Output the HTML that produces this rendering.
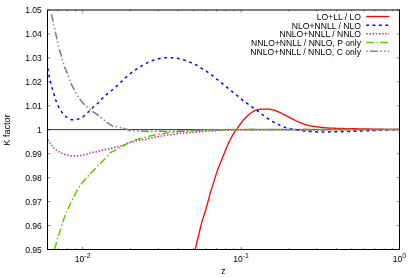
<!DOCTYPE html>
<html><head><meta charset="utf-8"><style>
html,body{margin:0;padding:0;background:#fff}
svg{display:block}
text{font-family:"Liberation Sans",sans-serif;font-size:9.1px;fill:#000}
</style></head><body>
<svg width="415" height="277" viewBox="0 0 415 277">
<defs><filter id="gs" x="0" y="0" width="415" height="277" filterUnits="userSpaceOnUse"><feColorMatrix type="saturate" values="0"/></filter><clipPath id="cp"><rect x="47.5" y="10.0" width="352.0" height="239.5"/></clipPath></defs>
<rect width="415" height="277" fill="#fff"/>
<g stroke="#000" stroke-width="0.5" fill="none"><path d="M47.5 10.00h2.7M399.5 10.00h-2.7"/><path d="M47.5 33.95h2.7M399.5 33.95h-2.7"/><path d="M47.5 57.90h2.7M399.5 57.90h-2.7"/><path d="M47.5 81.85h2.7M399.5 81.85h-2.7"/><path d="M47.5 105.80h2.7M399.5 105.80h-2.7"/><path d="M47.5 129.75h2.7M399.5 129.75h-2.7"/><path d="M47.5 153.70h2.7M399.5 153.70h-2.7"/><path d="M47.5 177.65h2.7M399.5 177.65h-2.7"/><path d="M47.5 201.60h2.7M399.5 201.60h-2.7"/><path d="M47.5 225.55h2.7M399.5 225.55h-2.7"/><path d="M47.5 249.50h2.7M399.5 249.50h-2.7"/><path d="M47.56 249.5v-1.4 M47.56 10.0v1.4"/><path d="M58.16 249.5v-1.4 M58.16 10.0v1.4"/><path d="M67.35 249.5v-1.4 M67.35 10.0v1.4"/><path d="M75.45 249.5v-1.4 M75.45 10.0v1.4"/><path d="M82.70 249.5v-2.7 M82.70 10.0v2.7"/><path d="M130.38 249.5v-1.4 M130.38 10.0v1.4"/><path d="M158.28 249.5v-1.4 M158.28 10.0v1.4"/><path d="M178.07 249.5v-1.4 M178.07 10.0v1.4"/><path d="M193.42 249.5v-1.4 M193.42 10.0v1.4"/><path d="M205.96 249.5v-1.4 M205.96 10.0v1.4"/><path d="M216.56 249.5v-1.4 M216.56 10.0v1.4"/><path d="M225.75 249.5v-1.4 M225.75 10.0v1.4"/><path d="M233.85 249.5v-1.4 M233.85 10.0v1.4"/><path d="M241.10 249.5v-2.7 M241.10 10.0v2.7"/><path d="M288.78 249.5v-1.4 M288.78 10.0v1.4"/><path d="M316.68 249.5v-1.4 M316.68 10.0v1.4"/><path d="M336.47 249.5v-1.4 M336.47 10.0v1.4"/><path d="M351.82 249.5v-1.4 M351.82 10.0v1.4"/><path d="M364.36 249.5v-1.4 M364.36 10.0v1.4"/><path d="M374.96 249.5v-1.4 M374.96 10.0v1.4"/><path d="M384.15 249.5v-1.4 M384.15 10.0v1.4"/><path d="M392.25 249.5v-1.4 M392.25 10.0v1.4"/><path d="M399.50 249.5v-2.7 M399.50 10.0v2.7"/></g>
<path d="M47.5 129.6H399.5" stroke="#000" stroke-width="0.8"/>
<path d="M195.20 249.20L195.35 248.58L195.54 247.81L195.76 246.91L196.01 245.89L196.28 244.78L196.56 243.61L196.86 242.40L197.16 241.17L197.46 239.94L197.75 238.73L198.04 237.58L198.30 236.50L198.55 235.46L198.81 234.41L199.06 233.37L199.31 232.32L199.56 231.27L199.81 230.24L200.06 229.21L200.30 228.19L200.55 227.19L200.80 226.21L201.05 225.24L201.30 224.30L201.55 223.39L201.80 222.50L202.05 221.63L202.30 220.79L202.54 219.95L202.79 219.13L203.04 218.32L203.29 217.50L203.54 216.69L203.79 215.87L204.05 215.04L204.30 214.20L204.56 213.35L204.81 212.50L205.08 211.65L205.34 210.80L205.60 209.94L205.86 209.09L206.12 208.23L206.39 207.37L206.64 206.51L206.90 205.64L207.15 204.77L207.40 203.90L207.64 203.01L207.89 202.11L208.13 201.19L208.36 200.27L208.60 199.34L208.83 198.41L209.06 197.49L209.29 196.59L209.52 195.70L209.75 194.84L209.97 194.00L210.20 193.20L210.42 192.44L210.64 191.71L210.86 191.01L211.08 190.33L211.29 189.67L211.51 189.02L211.72 188.39L211.93 187.75L212.15 187.11L212.36 186.45L212.58 185.79L212.80 185.10L213.02 184.39L213.25 183.65L213.49 182.90L213.72 182.14L213.96 181.38L214.19 180.61L214.43 179.86L214.66 179.11L214.88 178.39L215.10 177.69L215.30 177.03L215.50 176.40L215.68 175.82L215.84 175.30L215.98 174.83L216.11 174.38L216.24 173.96L216.37 173.54L216.50 173.11L216.64 172.67L216.80 172.20L216.97 171.69L217.17 171.13L217.40 170.50L217.66 169.81L217.94 169.06L218.25 168.27L218.57 167.44L218.91 166.59L219.26 165.71L219.62 164.82L219.98 163.92L220.34 163.02L220.70 162.13L221.06 161.26L221.40 160.40L221.74 159.56L222.08 158.71L222.42 157.85L222.76 157.00L223.11 156.14L223.45 155.29L223.79 154.44L224.14 153.59L224.48 152.75L224.82 151.93L225.16 151.11L225.50 150.30L225.84 149.50L226.17 148.71L226.50 147.92L226.84 147.14L227.17 146.36L227.50 145.59L227.83 144.83L228.16 144.09L228.50 143.35L228.83 142.62L229.16 141.90L229.50 141.20L229.84 140.50L230.19 139.81L230.54 139.11L230.90 138.43L231.26 137.75L231.61 137.09L231.96 136.44L232.31 135.82L232.65 135.22L232.98 134.65L233.30 134.11L233.60 133.60L233.89 133.14L234.16 132.73L234.41 132.36L234.66 132.02L234.90 131.70L235.13 131.41L235.36 131.12L235.60 130.83L235.83 130.53L236.08 130.21L236.33 129.87L236.60 129.50L236.88 129.10L237.16 128.68L237.45 128.25L237.74 127.81L238.04 127.36L238.34 126.91L238.64 126.45L238.95 125.99L239.26 125.53L239.57 125.08L239.88 124.63L240.20 124.20L240.52 123.77L240.84 123.34L241.17 122.91L241.50 122.48L241.83 122.05L242.17 121.62L242.51 121.20L242.84 120.79L243.18 120.38L243.52 119.98L243.86 119.58L244.20 119.20L244.54 118.82L244.88 118.45L245.22 118.09L245.56 117.73L245.91 117.37L246.25 117.03L246.59 116.68L246.94 116.35L247.28 116.03L247.62 115.71L247.96 115.40L248.30 115.10L248.64 114.81L248.97 114.53L249.30 114.25L249.64 113.99L249.97 113.73L250.30 113.48L250.63 113.23L250.96 112.99L251.30 112.76L251.63 112.54L251.96 112.31L252.30 112.10L252.64 111.89L252.97 111.68L253.30 111.48L253.63 111.29L253.96 111.10L254.29 110.92L254.62 110.74L254.96 110.58L255.31 110.42L255.66 110.27L256.03 110.13L256.40 110.00L256.78 109.88L257.18 109.77L257.58 109.67L258.00 109.58L258.41 109.49L258.84 109.42L259.26 109.35L259.69 109.29L260.12 109.23L260.55 109.18L260.98 109.14L261.40 109.10L261.83 109.07L262.26 109.05L262.70 109.03L263.14 109.03L263.58 109.03L264.02 109.03L264.46 109.04L264.89 109.05L265.31 109.06L265.72 109.08L266.12 109.09L266.50 109.10L266.86 109.10L267.18 109.10L267.49 109.09L267.77 109.09L268.05 109.08L268.33 109.07L268.62 109.08L268.91 109.09L269.24 109.12L269.58 109.16L269.97 109.22L270.40 109.30L270.87 109.40L271.39 109.51L271.93 109.64L272.50 109.78L273.09 109.93L273.70 110.09L274.32 110.27L274.94 110.46L275.57 110.65L276.19 110.86L276.80 111.08L277.40 111.30L277.98 111.54L278.57 111.79L279.14 112.05L279.72 112.33L280.30 112.62L280.88 112.91L281.47 113.22L282.06 113.53L282.65 113.84L283.26 114.16L283.87 114.48L284.50 114.80L285.14 115.13L285.79 115.46L286.45 115.81L287.13 116.16L287.80 116.52L288.49 116.88L289.17 117.24L289.86 117.60L290.55 117.95L291.24 118.31L291.92 118.66L292.60 119.00L293.27 119.34L293.95 119.68L294.63 120.03L295.30 120.37L295.97 120.71L296.65 121.05L297.32 121.38L298.00 121.71L298.67 122.02L299.35 122.33L300.02 122.62L300.70 122.90L301.37 123.17L302.05 123.42L302.72 123.67L303.40 123.91L304.07 124.14L304.75 124.36L305.43 124.57L306.10 124.78L306.77 124.97L307.45 125.16L308.12 125.33L308.80 125.50L309.47 125.65L310.14 125.80L310.80 125.92L311.46 126.04L312.12 126.15L312.78 126.25L313.45 126.35L314.12 126.44L314.80 126.53L315.49 126.62L316.19 126.71L316.90 126.80L317.62 126.90L318.34 126.99L319.05 127.08L319.78 127.17L320.51 127.26L321.25 127.34L322.01 127.43L322.78 127.51L323.57 127.59L324.39 127.66L325.23 127.73L326.10 127.80L326.98 127.86L327.85 127.93L328.73 127.98L329.61 128.04L330.52 128.09L331.46 128.14L332.43 128.18L333.45 128.23L334.53 128.27L335.68 128.32L336.90 128.36L338.20 128.40L339.60 128.44L341.11 128.48L342.70 128.51L344.36 128.55L346.08 128.58L347.84 128.61L349.63 128.64L351.44 128.67L353.24 128.70L355.03 128.74L356.79 128.77L358.50 128.80L360.18 128.83L361.86 128.87L363.54 128.90L365.21 128.94L366.89 128.97L368.56 129.01L370.24 129.04L371.92 129.07L373.60 129.11L375.29 129.14L376.99 129.17L378.70 129.20L380.48 129.23L382.38 129.26L384.37 129.29L386.39 129.32L388.42 129.35L390.41 129.38L392.34 129.40L394.16 129.43L395.83 129.45L397.32 129.47L398.59 129.49L399.60 129.50" stroke="#ff0000" stroke-width="1.3" fill="none" stroke-dasharray="" stroke-dashoffset="0" clip-path="url(#cp)"/>
<path d="M47.60 67.30L47.62 67.40L47.63 67.51L47.65 67.64L47.67 67.77L47.70 67.92L47.72 68.09L47.76 68.29L47.79 68.51L47.83 68.76L47.88 69.03L47.94 69.35L48.00 69.70L48.07 70.10L48.15 70.55L48.24 71.04L48.33 71.57L48.43 72.13L48.53 72.71L48.64 73.30L48.75 73.90L48.86 74.49L48.97 75.08L49.09 75.65L49.20 76.20L49.31 76.73L49.43 77.26L49.55 77.79L49.67 78.32L49.80 78.85L49.93 79.38L50.05 79.90L50.18 80.42L50.31 80.94L50.44 81.46L50.57 81.98L50.70 82.50L50.83 83.02L50.96 83.53L51.09 84.04L51.22 84.55L51.35 85.06L51.48 85.56L51.61 86.07L51.75 86.57L51.88 87.08L52.02 87.59L52.16 88.09L52.30 88.60L52.44 89.11L52.59 89.62L52.73 90.12L52.88 90.63L53.03 91.14L53.17 91.64L53.33 92.15L53.48 92.66L53.63 93.17L53.79 93.68L53.94 94.19L54.10 94.70L54.26 95.22L54.42 95.74L54.58 96.26L54.74 96.79L54.91 97.32L55.08 97.85L55.24 98.38L55.41 98.90L55.58 99.41L55.75 99.92L55.93 100.41L56.10 100.90L56.27 101.37L56.44 101.83L56.60 102.27L56.77 102.71L56.93 103.14L57.10 103.57L57.27 103.99L57.46 104.42L57.65 104.85L57.85 105.29L58.07 105.74L58.30 106.20L58.55 106.67L58.81 107.16L59.09 107.66L59.37 108.17L59.67 108.68L59.98 109.19L60.29 109.70L60.60 110.21L60.92 110.70L61.25 111.18L61.57 111.65L61.90 112.10L62.23 112.53L62.55 112.96L62.88 113.38L63.21 113.79L63.55 114.19L63.89 114.58L64.23 114.96L64.59 115.33L64.95 115.69L65.32 116.04L65.71 116.38L66.10 116.70L66.50 117.02L66.92 117.34L67.34 117.65L67.77 117.96L68.20 118.25L68.65 118.53L69.10 118.79L69.57 119.03L70.04 119.25L70.52 119.43L71.00 119.58L71.50 119.70L72.01 119.78L72.54 119.82L73.09 119.83L73.65 119.81L74.22 119.77L74.79 119.71L75.37 119.62L75.94 119.52L76.50 119.40L77.05 119.28L77.58 119.14L78.10 119.00L78.60 118.85L79.09 118.69L79.57 118.51L80.04 118.31L80.51 118.10L80.96 117.88L81.41 117.65L81.86 117.40L82.30 117.14L82.74 116.87L83.17 116.59L83.60 116.30L84.02 115.99L84.44 115.67L84.85 115.33L85.25 114.97L85.64 114.60L86.04 114.22L86.43 113.84L86.82 113.45L87.21 113.06L87.60 112.67L88.00 112.28L88.40 111.90L88.81 111.52L89.21 111.13L89.62 110.73L90.03 110.33L90.44 109.93L90.86 109.53L91.27 109.13L91.68 108.73L92.09 108.34L92.49 107.95L92.90 107.57L93.30 107.20L93.70 106.84L94.10 106.49L94.50 106.14L94.90 105.80L95.30 105.47L95.70 105.14L96.09 104.81L96.49 104.47L96.87 104.14L97.25 103.80L97.63 103.45L98.00 103.10L98.36 102.74L98.71 102.37L99.05 102.00L99.38 101.63L99.71 101.25L100.03 100.88L100.36 100.50L100.69 100.11L101.03 99.73L101.37 99.35L101.73 98.98L102.10 98.60L102.48 98.22L102.88 97.85L103.28 97.47L103.70 97.09L104.11 96.71L104.54 96.33L104.96 95.95L105.39 95.58L105.82 95.20L106.25 94.83L106.68 94.46L107.10 94.10L107.52 93.74L107.95 93.38L108.38 93.03L108.81 92.67L109.24 92.32L109.67 91.97L110.10 91.63L110.53 91.28L110.95 90.94L111.37 90.59L111.79 90.25L112.20 89.90L112.61 89.56L113.01 89.21L113.40 88.88L113.79 88.54L114.18 88.20L114.57 87.86L114.95 87.52L115.34 87.19L115.73 86.84L116.12 86.50L116.51 86.15L116.90 85.80L117.30 85.44L117.70 85.09L118.10 84.72L118.50 84.36L118.90 83.99L119.30 83.62L119.70 83.26L120.10 82.89L120.50 82.51L120.90 82.14L121.30 81.77L121.70 81.40L122.09 81.03L122.49 80.65L122.88 80.28L123.26 79.90L123.65 79.52L124.04 79.14L124.43 78.76L124.81 78.38L125.21 78.01L125.60 77.63L126.00 77.26L126.40 76.90L126.81 76.54L127.21 76.17L127.63 75.81L128.04 75.45L128.46 75.09L128.88 74.74L129.29 74.39L129.71 74.04L130.14 73.69L130.56 73.36L130.98 73.02L131.40 72.70L131.82 72.38L132.24 72.08L132.65 71.78L133.07 71.49L133.49 71.20L133.91 70.91L134.33 70.63L134.75 70.35L135.18 70.07L135.61 69.78L136.05 69.49L136.50 69.20L136.95 68.90L137.42 68.60L137.89 68.29L138.37 67.99L138.85 67.68L139.33 67.37L139.82 67.06L140.30 66.76L140.78 66.46L141.26 66.17L141.73 65.88L142.20 65.60L142.66 65.33L143.11 65.06L143.55 64.80L144.00 64.54L144.44 64.28L144.87 64.03L145.32 63.78L145.76 63.54L146.21 63.30L146.66 63.06L147.13 62.83L147.60 62.60L148.08 62.37L148.58 62.14L149.08 61.92L149.58 61.70L150.09 61.48L150.61 61.26L151.12 61.05L151.64 60.85L152.16 60.65L152.68 60.46L153.19 60.28L153.70 60.10L154.21 59.93L154.72 59.77L155.23 59.62L155.74 59.47L156.25 59.33L156.76 59.19L157.27 59.06L157.77 58.94L158.28 58.82L158.79 58.71L159.30 58.60L159.80 58.50L160.30 58.40L160.80 58.31L161.30 58.22L161.79 58.14L162.28 58.07L162.78 58.00L163.27 57.94L163.77 57.88L164.27 57.83L164.77 57.78L165.28 57.74L165.80 57.70L166.33 57.67L166.86 57.64L167.40 57.62L167.95 57.61L168.50 57.60L169.05 57.60L169.60 57.60L170.15 57.61L170.70 57.63L171.24 57.64L171.77 57.67L172.30 57.70L172.82 57.74L173.33 57.78L173.83 57.83L174.33 57.88L174.82 57.94L175.31 58.00L175.80 58.07L176.30 58.14L176.79 58.23L177.29 58.31L177.79 58.40L178.30 58.50L178.81 58.60L179.33 58.71L179.85 58.82L180.38 58.94L180.90 59.06L181.43 59.19L181.96 59.33L182.49 59.47L183.02 59.62L183.55 59.77L184.07 59.93L184.60 60.10L185.13 60.28L185.66 60.46L186.19 60.66L186.72 60.86L187.25 61.07L187.78 61.29L188.31 61.51L188.84 61.73L189.36 61.95L189.88 62.17L190.39 62.39L190.90 62.60L191.40 62.81L191.90 63.02L192.40 63.22L192.89 63.43L193.38 63.64L193.86 63.84L194.34 64.05L194.82 64.27L195.30 64.49L195.77 64.72L196.24 64.96L196.70 65.20L197.16 65.46L197.61 65.72L198.06 66.00L198.50 66.28L198.94 66.57L199.38 66.86L199.81 67.15L200.24 67.44L200.68 67.74L201.12 68.03L201.56 68.32L202.00 68.60L202.45 68.88L202.90 69.15L203.35 69.42L203.80 69.69L204.26 69.96L204.71 70.22L205.17 70.49L205.62 70.77L206.07 71.04L206.52 71.32L206.96 71.61L207.40 71.90L207.84 72.20L208.27 72.50L208.70 72.81L209.12 73.12L209.55 73.43L209.97 73.75L210.39 74.07L210.81 74.39L211.23 74.72L211.65 75.04L212.08 75.37L212.50 75.70L212.93 76.03L213.35 76.37L213.78 76.71L214.20 77.05L214.63 77.39L215.06 77.74L215.48 78.08L215.91 78.43L216.33 78.78L216.76 79.12L217.18 79.46L217.60 79.80L218.02 80.14L218.44 80.47L218.85 80.80L219.27 81.14L219.69 81.47L220.10 81.80L220.51 82.13L220.93 82.46L221.35 82.80L221.76 83.13L222.18 83.46L222.60 83.80L223.02 84.14L223.44 84.48L223.87 84.82L224.29 85.16L224.72 85.50L225.14 85.84L225.57 86.18L226.00 86.52L226.42 86.87L226.85 87.21L227.27 87.55L227.70 87.90L228.13 88.25L228.55 88.60L228.98 88.95L229.40 89.30L229.83 89.65L230.26 90.00L230.68 90.35L231.11 90.70L231.53 91.05L231.96 91.40L232.38 91.75L232.80 92.10L233.22 92.45L233.64 92.79L234.06 93.14L234.49 93.49L234.91 93.83L235.32 94.18L235.74 94.52L236.16 94.86L236.57 95.20L236.99 95.54L237.39 95.87L237.80 96.20L238.20 96.53L238.59 96.85L238.98 97.17L239.36 97.48L239.74 97.79L240.12 98.11L240.50 98.42L240.89 98.73L241.28 99.04L241.67 99.36L242.08 99.68L242.50 100.00L242.93 100.33L243.38 100.66L243.84 101.00L244.30 101.33L244.77 101.67L245.24 102.01L245.72 102.35L246.19 102.69L246.66 103.02L247.11 103.35L247.56 103.68L248.00 104.00L248.42 104.31L248.84 104.62L249.24 104.93L249.64 105.23L250.03 105.53L250.42 105.83L250.81 106.12L251.20 106.41L251.59 106.71L251.98 107.00L252.39 107.30L252.80 107.60L253.22 107.90L253.65 108.20L254.08 108.50L254.51 108.79L254.95 109.09L255.39 109.39L255.83 109.69L256.27 109.99L256.70 110.29L257.14 110.59L257.57 110.89L258.00 111.20L258.42 111.51L258.84 111.82L259.26 112.14L259.68 112.46L260.10 112.77L260.51 113.09L260.93 113.41L261.34 113.73L261.75 114.05L262.17 114.37L262.58 114.69L263.00 115.00L263.42 115.31L263.83 115.63L264.24 115.94L264.65 116.26L265.06 116.57L265.48 116.88L265.89 117.19L266.30 117.50L266.72 117.81L267.14 118.11L267.57 118.41L268.00 118.70L268.43 118.99L268.87 119.28L269.31 119.56L269.74 119.84L270.19 120.11L270.63 120.39L271.08 120.66L271.53 120.93L271.99 121.20L272.45 121.47L272.92 121.73L273.40 122.00L273.88 122.27L274.38 122.54L274.88 122.81L275.39 123.07L275.90 123.34L276.41 123.61L276.93 123.87L277.45 124.13L277.97 124.38L278.48 124.63L278.99 124.87L279.50 125.10L280.00 125.33L280.50 125.55L281.00 125.77L281.50 125.99L282.00 126.20L282.50 126.41L283.00 126.61L283.50 126.80L284.00 126.99L284.50 127.17L285.00 127.34L285.50 127.50L286.00 127.65L286.50 127.79L286.99 127.92L287.49 128.05L287.98 128.16L288.48 128.28L288.98 128.38L289.49 128.49L290.00 128.59L290.52 128.69L291.06 128.79L291.60 128.90L292.16 129.01L292.74 129.11L293.33 129.22L293.93 129.32L294.54 129.42L295.15 129.52L295.76 129.62L296.37 129.72L296.97 129.82L297.56 129.91L298.14 130.01L298.70 130.10L299.24 130.19L299.76 130.28L300.27 130.38L300.77 130.47L301.26 130.56L301.75 130.64L302.24 130.73L302.73 130.81L303.23 130.89L303.74 130.96L304.26 131.03L304.80 131.10L305.36 131.16L305.93 131.21L306.51 131.26L307.10 131.31L307.69 131.35L308.29 131.39L308.90 131.43L309.50 131.47L310.11 131.50L310.71 131.53L311.31 131.57L311.90 131.60L312.45 131.63L312.95 131.67L313.42 131.70L313.86 131.73L314.30 131.76L314.76 131.79L315.26 131.81L315.81 131.84L316.43 131.86L317.14 131.88L317.96 131.89L318.90 131.90L319.99 131.91L321.23 131.91L322.60 131.91L324.06 131.91L325.59 131.90L327.16 131.89L328.76 131.88L330.36 131.87L331.92 131.86L333.43 131.84L334.87 131.82L336.20 131.80L337.45 131.78L338.65 131.75L339.81 131.72L340.94 131.69L342.05 131.65L343.12 131.62L344.19 131.58L345.23 131.54L346.27 131.51L347.31 131.47L348.35 131.43L349.40 131.40L350.44 131.37L351.47 131.34L352.48 131.30L353.47 131.27L354.46 131.24L355.45 131.21L356.44 131.18L357.43 131.15L358.42 131.11L359.43 131.08L360.46 131.04L361.50 131.00L362.56 130.96L363.65 130.91L364.75 130.86L365.86 130.81L366.98 130.76L368.10 130.71L369.22 130.65L370.34 130.60L371.45 130.55L372.55 130.50L373.64 130.45L374.70 130.40L375.76 130.35L376.83 130.31L377.89 130.26L378.96 130.22L380.02 130.17L381.06 130.13L382.09 130.09L383.10 130.05L384.07 130.01L385.02 129.97L385.93 129.93L386.80 129.90L387.63 129.87L388.43 129.83L389.21 129.80L389.96 129.77L390.68 129.75L391.37 129.72L392.04 129.69L392.68 129.67L393.29 129.65L393.89 129.63L394.46 129.61L395.00 129.60L395.52 129.59L396.03 129.58L396.51 129.58L396.97 129.58L397.40 129.58L397.81 129.58L398.19 129.58L398.54 129.59L398.86 129.59L399.14 129.60L399.39 129.60L399.60 129.60" stroke="#0000ff" stroke-width="1.5" fill="none" stroke-dasharray="2.8 3.6" stroke-dashoffset="-1.1" clip-path="url(#cp)"/>
<path d="M47.60 139.80L47.63 139.83L47.65 139.87L47.68 139.90L47.71 139.94L47.75 139.99L47.79 140.04L47.83 140.11L47.89 140.18L47.95 140.26L48.02 140.36L48.11 140.47L48.20 140.60L48.31 140.75L48.43 140.91L48.56 141.10L48.70 141.30L48.85 141.51L49.01 141.72L49.17 141.95L49.33 142.18L49.50 142.41L49.67 142.65L49.84 142.88L50.00 143.10L50.16 143.32L50.33 143.56L50.51 143.79L50.68 144.03L50.86 144.27L51.04 144.51L51.22 144.75L51.40 144.99L51.58 145.23L51.75 145.46L51.93 145.68L52.10 145.90L52.27 146.11L52.43 146.32L52.60 146.52L52.76 146.71L52.92 146.91L53.08 147.10L53.24 147.29L53.40 147.47L53.57 147.66L53.74 147.84L53.92 148.02L54.10 148.20L54.29 148.38L54.49 148.55L54.69 148.73L54.89 148.90L55.10 149.07L55.31 149.24L55.53 149.40L55.74 149.57L55.96 149.73L56.17 149.89L56.39 150.04L56.60 150.20L56.81 150.35L57.03 150.50L57.24 150.65L57.45 150.80L57.67 150.94L57.88 151.08L58.10 151.22L58.31 151.36L58.53 151.50L58.75 151.63L58.98 151.77L59.20 151.90L59.43 152.03L59.65 152.17L59.88 152.30L60.11 152.43L60.34 152.56L60.58 152.69L60.81 152.81L61.04 152.94L61.28 153.06L61.52 153.18L61.76 153.29L62.00 153.40L62.24 153.51L62.48 153.61L62.73 153.71L62.97 153.81L63.22 153.90L63.47 153.99L63.72 154.08L63.97 154.17L64.22 154.26L64.48 154.34L64.74 154.42L65.00 154.50L65.27 154.58L65.54 154.65L65.81 154.73L66.09 154.80L66.37 154.87L66.65 154.94L66.93 155.00L67.21 155.07L67.49 155.13L67.76 155.19L68.03 155.24L68.30 155.30L68.56 155.35L68.81 155.41L69.06 155.46L69.31 155.50L69.56 155.55L69.80 155.59L70.04 155.64L70.29 155.67L70.54 155.71L70.79 155.74L71.04 155.77L71.30 155.80L71.56 155.82L71.83 155.84L72.10 155.86L72.38 155.87L72.65 155.88L72.93 155.89L73.21 155.89L73.49 155.90L73.77 155.90L74.05 155.90L74.32 155.90L74.60 155.90L74.88 155.90L75.15 155.90L75.43 155.89L75.71 155.89L75.99 155.88L76.27 155.88L76.55 155.87L76.82 155.86L77.10 155.84L77.37 155.83L77.64 155.82L77.90 155.80L78.16 155.78L78.41 155.77L78.66 155.75L78.91 155.73L79.16 155.71L79.40 155.69L79.64 155.66L79.89 155.64L80.14 155.61L80.39 155.58L80.64 155.54L80.90 155.50L81.17 155.46L81.43 155.41L81.71 155.35L81.99 155.29L82.26 155.23L82.54 155.17L82.82 155.10L83.10 155.04L83.38 154.98L83.66 154.92L83.93 154.86L84.20 154.80L84.46 154.75L84.73 154.70L84.98 154.66L85.24 154.61L85.50 154.57L85.75 154.53L86.00 154.49L86.26 154.44L86.52 154.39L86.77 154.33L87.04 154.27L87.30 154.20L87.56 154.12L87.81 154.04L88.05 153.94L88.28 153.85L88.52 153.75L88.76 153.64L89.02 153.54L89.29 153.43L89.57 153.32L89.89 153.21L90.23 153.11L90.60 153.00L91.01 152.90L91.46 152.79L91.93 152.69L92.43 152.58L92.95 152.48L93.48 152.37L94.02 152.26L94.57 152.15L95.12 152.04L95.66 151.93L96.19 151.82L96.70 151.70L97.20 151.58L97.70 151.46L98.19 151.34L98.69 151.21L99.18 151.09L99.67 150.96L100.16 150.84L100.66 150.71L101.16 150.58L101.67 150.45L102.18 150.33L102.70 150.20L103.23 150.07L103.77 149.95L104.32 149.82L104.87 149.70L105.43 149.57L105.99 149.45L106.56 149.32L107.11 149.20L107.67 149.07L108.22 148.95L108.77 148.82L109.30 148.70L109.83 148.57L110.35 148.45L110.86 148.32L111.37 148.20L111.88 148.07L112.39 147.95L112.89 147.82L113.39 147.70L113.89 147.57L114.39 147.45L114.90 147.32L115.40 147.20L115.91 147.07L116.43 146.95L116.96 146.82L117.50 146.69L118.03 146.56L118.56 146.44L119.08 146.31L119.58 146.19L120.07 146.06L120.54 145.94L120.98 145.82L121.40 145.70L121.78 145.59L122.11 145.48L122.42 145.38L122.70 145.28L122.96 145.18L123.22 145.09L123.47 144.99L123.73 144.89L124.01 144.78L124.31 144.66L124.63 144.54L125.00 144.40L125.40 144.25L125.82 144.09L126.27 143.91L126.73 143.73L127.21 143.55L127.69 143.36L128.19 143.17L128.69 142.98L129.20 142.79L129.70 142.62L130.20 142.45L130.70 142.30L131.19 142.16L131.69 142.02L132.19 141.90L132.69 141.77L133.20 141.66L133.71 141.54L134.22 141.43L134.73 141.33L135.24 141.22L135.76 141.11L136.28 141.01L136.80 140.90L137.33 140.79L137.89 140.68L138.46 140.57L139.04 140.46L139.63 140.35L140.21 140.24L140.77 140.13L141.32 140.03L141.85 139.94L142.34 139.85L142.79 139.77L143.20 139.70L143.55 139.64L143.83 139.60L144.06 139.57L144.26 139.55L144.43 139.54L144.59 139.53L144.75 139.51L144.92 139.49L145.12 139.47L145.36 139.43L145.65 139.37L146.00 139.30L146.42 139.21L146.89 139.10L147.39 138.98L147.94 138.84L148.51 138.70L149.09 138.55L149.69 138.40L150.30 138.25L150.90 138.10L151.48 137.96L152.06 137.82L152.60 137.70L153.12 137.59L153.64 137.48L154.15 137.37L154.66 137.27L155.16 137.17L155.66 137.07L156.16 136.97L156.66 136.88L157.16 136.78L157.67 136.69L158.18 136.60L158.70 136.50L159.23 136.40L159.76 136.31L160.30 136.21L160.84 136.12L161.39 136.02L161.94 135.93L162.49 135.84L163.03 135.75L163.58 135.66L164.12 135.57L164.66 135.48L165.20 135.40L165.73 135.32L166.26 135.24L166.79 135.16L167.31 135.08L167.83 135.01L168.36 134.93L168.88 134.86L169.40 134.79L169.92 134.71L170.45 134.64L170.97 134.57L171.50 134.50L172.03 134.43L172.56 134.36L173.10 134.29L173.64 134.22L174.17 134.15L174.71 134.09L175.25 134.02L175.79 133.96L176.32 133.89L176.85 133.83L177.38 133.76L177.90 133.70L178.41 133.64L178.90 133.58L179.38 133.52L179.84 133.46L180.31 133.41L180.78 133.35L181.26 133.29L181.76 133.24L182.27 133.18L182.81 133.12L183.39 133.06L184.00 133.00L184.64 132.94L185.30 132.87L185.98 132.81L186.68 132.74L187.40 132.68L188.14 132.61L188.90 132.55L189.69 132.48L190.50 132.41L191.34 132.34L192.21 132.27L193.10 132.20L194.03 132.13L195.01 132.05L196.02 131.98L197.07 131.90L198.14 131.82L199.23 131.74L200.33 131.67L201.44 131.59L202.55 131.51L203.65 131.44L204.73 131.37L205.80 131.30L206.85 131.23L207.91 131.17L208.96 131.11L210.01 131.04L211.06 130.98L212.11 130.93L213.16 130.87L214.20 130.81L215.25 130.76L216.30 130.70L217.35 130.65L218.40 130.60L219.40 130.55L220.31 130.50L221.17 130.46L221.99 130.41L222.82 130.37L223.68 130.33L224.59 130.29L225.59 130.25L226.70 130.21L227.95 130.18L229.38 130.14L231.00 130.10L232.49 130.06L233.60 130.02L234.50 129.99L235.36 129.95L236.32 129.91L237.56 129.88L239.25 129.84L241.53 129.81L244.59 129.78L248.58 129.75L253.66 129.72L260.00 129.70L268.21 129.68L278.48 129.66L290.40 129.65L303.51 129.64L317.39 129.63L331.61 129.62L345.73 129.62L359.31 129.61L371.92 129.61L383.13 129.61L392.50 129.60L399.60 129.60" stroke="#d51e8c" stroke-width="1.5" fill="none" stroke-dasharray="1.45 1.75" stroke-dashoffset="0" clip-path="url(#cp)"/>
<path d="M54.50 249.20L54.61 248.85L54.74 248.40L54.91 247.86L55.09 247.26L55.29 246.60L55.50 245.92L55.71 245.22L55.92 244.53L56.12 243.87L56.30 243.25L56.46 242.68L56.60 242.20L56.71 241.78L56.81 241.41L56.89 241.07L56.96 240.76L57.02 240.47L57.07 240.21L57.12 239.95L57.17 239.71L57.22 239.46L57.27 239.22L57.33 238.97L57.40 238.70L57.47 238.44L57.53 238.21L57.59 238.00L57.65 237.80L57.71 237.61L57.77 237.41L57.85 237.19L57.93 236.95L58.02 236.68L58.13 236.37L58.25 236.01L58.40 235.60L58.58 235.11L58.79 234.54L59.03 233.90L59.29 233.22L59.56 232.50L59.83 231.78L60.11 231.05L60.37 230.34L60.62 229.66L60.85 229.04L61.04 228.48L61.20 228.00L61.32 227.60L61.41 227.27L61.48 226.99L61.52 226.75L61.55 226.55L61.56 226.37L61.57 226.21L61.58 226.05L61.59 225.89L61.61 225.72L61.65 225.52L61.70 225.30L61.76 225.07L61.82 224.86L61.87 224.66L61.93 224.46L61.99 224.26L62.06 224.06L62.13 223.83L62.21 223.58L62.31 223.30L62.42 222.98L62.55 222.62L62.70 222.20L62.88 221.71L63.08 221.14L63.31 220.50L63.56 219.82L63.82 219.10L64.09 218.38L64.36 217.65L64.62 216.94L64.87 216.26L65.11 215.64L65.32 215.08L65.50 214.60L65.66 214.20L65.79 213.87L65.91 213.58L66.02 213.34L66.12 213.13L66.21 212.95L66.29 212.78L66.37 212.63L66.44 212.47L66.52 212.30L66.61 212.11L66.70 211.90L66.79 211.68L66.87 211.48L66.94 211.28L67.01 211.09L67.07 210.90L67.14 210.70L67.22 210.49L67.30 210.27L67.40 210.02L67.51 209.75L67.65 209.44L67.80 209.10L67.98 208.71L68.19 208.28L68.42 207.80L68.67 207.30L68.94 206.78L69.21 206.24L69.48 205.69L69.75 205.16L70.01 204.63L70.26 204.12L70.49 203.64L70.70 203.20L70.89 202.79L71.06 202.39L71.23 202.00L71.39 201.62L71.53 201.26L71.67 200.91L71.81 200.56L71.95 200.23L72.08 199.91L72.22 199.60L72.36 199.30L72.50 199.00L72.64 198.73L72.77 198.50L72.89 198.29L73.01 198.10L73.13 197.93L73.26 197.75L73.38 197.57L73.52 197.36L73.66 197.13L73.83 196.87L74.00 196.56L74.20 196.20L74.42 195.77L74.67 195.27L74.95 194.73L75.24 194.14L75.54 193.52L75.84 192.89L76.15 192.27L76.45 191.65L76.74 191.06L77.02 190.52L77.27 190.03L77.50 189.60L77.70 189.24L77.88 188.93L78.05 188.66L78.20 188.42L78.35 188.21L78.48 188.02L78.61 187.84L78.74 187.67L78.87 187.50L79.01 187.32L79.15 187.12L79.30 186.90L79.45 186.67L79.60 186.45L79.75 186.23L79.89 186.01L80.03 185.79L80.18 185.57L80.34 185.34L80.50 185.10L80.68 184.85L80.87 184.58L81.07 184.30L81.30 184.00L81.55 183.67L81.83 183.32L82.12 182.94L82.43 182.54L82.76 182.14L83.09 181.73L83.42 181.31L83.76 180.90L84.08 180.50L84.40 180.11L84.71 179.74L85.00 179.40L85.28 179.08L85.55 178.77L85.81 178.47L86.07 178.18L86.32 177.90L86.58 177.62L86.82 177.36L87.06 177.10L87.30 176.85L87.54 176.59L87.77 176.35L88.00 176.10L88.22 175.87L88.41 175.66L88.59 175.46L88.77 175.28L88.94 175.10L89.11 174.93L89.29 174.74L89.48 174.54L89.69 174.32L89.93 174.08L90.20 173.81L90.50 173.50L90.85 173.14L91.26 172.74L91.71 172.30L92.18 171.83L92.68 171.35L93.18 170.85L93.68 170.35L94.17 169.87L94.64 169.40L95.08 168.96L95.46 168.56L95.80 168.20L96.08 167.89L96.32 167.61L96.52 167.36L96.69 167.13L96.84 166.92L96.97 166.72L97.09 166.54L97.21 166.36L97.34 166.18L97.47 166.00L97.62 165.80L97.80 165.60L97.99 165.40L98.17 165.20L98.35 165.02L98.53 164.84L98.71 164.67L98.91 164.49L99.11 164.30L99.33 164.10L99.56 163.88L99.82 163.65L100.09 163.39L100.40 163.10L100.75 162.77L101.14 162.41L101.56 162.01L102.01 161.60L102.48 161.16L102.96 160.72L103.43 160.27L103.90 159.84L104.35 159.41L104.77 159.01L105.16 158.64L105.50 158.30L105.80 158.00L106.07 157.72L106.31 157.46L106.53 157.22L106.73 156.99L106.91 156.78L107.09 156.57L107.26 156.36L107.44 156.15L107.61 155.94L107.80 155.73L108.00 155.50L108.20 155.27L108.38 155.04L108.55 154.80L108.71 154.57L108.87 154.34L109.04 154.11L109.22 153.88L109.41 153.65L109.64 153.41L109.89 153.18L110.17 152.94L110.50 152.70L110.88 152.45L111.32 152.19L111.80 151.93L112.32 151.66L112.86 151.39L113.42 151.12L113.98 150.85L114.52 150.60L115.05 150.35L115.55 150.12L116.00 149.90L116.40 149.70L116.75 149.52L117.07 149.37L117.35 149.23L117.61 149.11L117.85 148.99L118.08 148.89L118.29 148.78L118.50 148.68L118.71 148.57L118.93 148.46L119.16 148.34L119.40 148.20L119.65 148.05L119.91 147.89L120.16 147.73L120.41 147.56L120.66 147.39L120.92 147.22L121.17 147.04L121.43 146.87L121.69 146.70L121.96 146.53L122.23 146.36L122.50 146.20L122.78 146.04L123.08 145.89L123.38 145.74L123.69 145.59L124.00 145.44L124.31 145.29L124.61 145.14L124.91 144.99L125.21 144.85L125.49 144.70L125.75 144.55L126.00 144.40L126.21 144.25L126.39 144.11L126.53 143.97L126.65 143.84L126.76 143.70L126.88 143.56L127.00 143.42L127.15 143.27L127.34 143.12L127.56 142.96L127.85 142.79L128.20 142.60L128.62 142.40L129.10 142.18L129.63 141.94L130.20 141.70L130.81 141.45L131.44 141.19L132.09 140.94L132.75 140.69L133.41 140.45L134.06 140.21L134.69 140.00L135.30 139.80L135.90 139.62L136.53 139.44L137.17 139.28L137.82 139.12L138.47 138.97L139.11 138.82L139.73 138.69L140.34 138.56L140.91 138.44L141.45 138.32L141.95 138.21L142.40 138.10L142.79 138.00L143.14 137.91L143.45 137.83L143.72 137.76L143.96 137.70L144.18 137.64L144.39 137.58L144.58 137.53L144.77 137.47L144.97 137.42L145.18 137.36L145.40 137.30L145.61 137.24L145.80 137.19L145.96 137.15L146.11 137.10L146.26 137.06L146.41 137.02L146.58 136.97L146.78 136.92L147.01 136.86L147.28 136.78L147.61 136.70L148.00 136.60L148.47 136.48L149.02 136.34L149.64 136.18L150.30 136.00L151.00 135.82L151.72 135.64L152.44 135.45L153.16 135.27L153.84 135.10L154.49 134.95L155.08 134.81L155.60 134.70L156.06 134.61L156.47 134.54L156.85 134.48L157.20 134.43L157.52 134.39L157.82 134.36L158.11 134.34L158.39 134.31L158.66 134.29L158.93 134.27L159.21 134.24L159.50 134.20L159.78 134.16L160.03 134.12L160.26 134.09L160.47 134.06L160.69 134.03L160.90 133.99L161.13 133.96L161.37 133.92L161.64 133.87L161.95 133.82L162.30 133.77L162.70 133.70L163.15 133.62L163.62 133.54L164.13 133.45L164.66 133.35L165.22 133.24L165.81 133.14L166.42 133.03L167.06 132.92L167.72 132.81L168.39 132.70L169.09 132.60L169.80 132.50L170.53 132.40L171.29 132.31L172.07 132.21L172.87 132.12L173.69 132.02L174.53 131.93L175.39 131.84L176.28 131.75L177.18 131.66L178.10 131.57L179.04 131.48L180.00 131.40L180.96 131.32L181.90 131.24L182.84 131.16L183.79 131.08L184.76 131.00L185.76 130.93L186.80 130.85L187.90 130.78L189.05 130.71L190.28 130.64L191.59 130.57L193.00 130.50L194.51 130.43L196.11 130.37L197.80 130.30L199.56 130.23L201.38 130.17L203.25 130.11L205.16 130.05L207.11 129.99L209.08 129.94L211.06 129.89L213.03 129.84L215.00 129.80L216.55 129.77L217.44 129.74L217.88 129.71L218.13 129.69L218.39 129.67L218.90 129.66L219.89 129.64L221.59 129.63L224.22 129.62L228.01 129.62L233.19 129.61L240.00 129.60L249.10 129.59L260.66 129.59L274.18 129.59L289.14 129.59L305.04 129.59L321.36 129.59L337.60 129.59L353.24 129.59L367.77 129.60L380.68 129.60L391.46 129.60L399.60 129.60" stroke="#64c800" stroke-width="1.5" fill="none" stroke-dasharray="7.7 2.7 1.5 2.2" stroke-dashoffset="0" clip-path="url(#cp)"/>
<path d="M51.20 12.50L51.20 12.56L51.20 12.61L51.20 12.66L51.20 12.71L51.19 12.77L51.19 12.86L51.20 12.96L51.21 13.10L51.24 13.28L51.28 13.50L51.33 13.77L51.40 14.10L51.49 14.51L51.61 15.01L51.75 15.57L51.90 16.19L52.06 16.85L52.23 17.53L52.40 18.22L52.57 18.90L52.72 19.55L52.87 20.16L53.00 20.72L53.10 21.20L53.18 21.62L53.25 21.99L53.30 22.32L53.34 22.63L53.37 22.90L53.39 23.16L53.42 23.41L53.44 23.65L53.47 23.90L53.50 24.15L53.54 24.41L53.60 24.70L53.67 25.00L53.74 25.31L53.82 25.62L53.91 25.93L54.00 26.24L54.09 26.56L54.18 26.87L54.27 27.18L54.36 27.49L54.44 27.80L54.53 28.10L54.60 28.40L54.67 28.68L54.72 28.94L54.78 29.19L54.82 29.43L54.87 29.67L54.91 29.91L54.96 30.16L55.01 30.43L55.07 30.72L55.13 31.04L55.21 31.40L55.30 31.80L55.40 32.26L55.53 32.77L55.66 33.34L55.80 33.94L55.95 34.56L56.10 35.19L56.25 35.83L56.40 36.45L56.54 37.05L56.67 37.62L56.80 38.14L56.90 38.60L56.99 39.01L57.07 39.38L57.14 39.71L57.20 40.02L57.25 40.30L57.30 40.57L57.35 40.82L57.39 41.07L57.44 41.32L57.49 41.57L57.54 41.83L57.60 42.10L57.66 42.38L57.73 42.66L57.79 42.94L57.86 43.21L57.93 43.49L57.99 43.76L58.06 44.04L58.13 44.31L58.20 44.58L58.27 44.85L58.33 45.13L58.40 45.40L58.46 45.66L58.52 45.90L58.56 46.12L58.61 46.33L58.66 46.54L58.71 46.76L58.76 47.00L58.82 47.26L58.89 47.55L58.98 47.88L59.08 48.26L59.20 48.70L59.34 49.21L59.52 49.81L59.71 50.47L59.91 51.18L60.13 51.92L60.36 52.68L60.58 53.44L60.80 54.17L61.00 54.88L61.19 55.53L61.36 56.11L61.50 56.60L61.61 57.01L61.70 57.35L61.78 57.64L61.83 57.88L61.88 58.08L61.92 58.26L61.95 58.43L61.99 58.59L62.03 58.76L62.07 58.94L62.13 59.15L62.20 59.40L62.28 59.68L62.38 59.97L62.47 60.28L62.58 60.59L62.68 60.91L62.79 61.24L62.90 61.56L63.01 61.89L63.12 62.20L63.22 62.51L63.31 62.81L63.40 63.10L63.47 63.36L63.53 63.59L63.57 63.80L63.61 64.00L63.65 64.19L63.68 64.39L63.72 64.59L63.78 64.82L63.85 65.08L63.94 65.37L64.05 65.71L64.20 66.10L64.38 66.56L64.61 67.09L64.86 67.68L65.14 68.31L65.43 68.98L65.74 69.65L66.04 70.32L66.34 70.99L66.62 71.62L66.88 72.21L67.11 72.74L67.30 73.20L67.46 73.59L67.58 73.93L67.69 74.22L67.77 74.47L67.85 74.70L67.91 74.90L67.96 75.09L68.01 75.29L68.07 75.48L68.13 75.70L68.21 75.93L68.30 76.20L68.40 76.50L68.51 76.81L68.63 77.14L68.75 77.48L68.88 77.82L69.00 78.17L69.12 78.51L69.25 78.86L69.37 79.19L69.49 79.51L69.60 79.81L69.70 80.10L69.79 80.35L69.86 80.57L69.92 80.76L69.97 80.93L70.02 81.10L70.07 81.26L70.13 81.44L70.20 81.63L70.28 81.86L70.39 82.12L70.53 82.43L70.70 82.80L70.91 83.24L71.16 83.75L71.44 84.32L71.75 84.93L72.08 85.57L72.41 86.23L72.75 86.89L73.08 87.53L73.40 88.15L73.70 88.73L73.97 89.25L74.20 89.70L74.40 90.09L74.57 90.42L74.72 90.71L74.86 90.97L74.98 91.21L75.09 91.42L75.20 91.62L75.31 91.81L75.42 92.01L75.53 92.22L75.66 92.45L75.80 92.70L75.95 92.97L76.11 93.25L76.28 93.54L76.45 93.84L76.62 94.13L76.79 94.43L76.97 94.73L77.14 95.02L77.31 95.30L77.48 95.58L77.64 95.85L77.80 96.10L77.94 96.33L78.06 96.53L78.17 96.70L78.27 96.87L78.37 97.02L78.47 97.18L78.58 97.35L78.71 97.53L78.86 97.74L79.03 97.99L79.25 98.27L79.50 98.60L79.80 99.00L80.16 99.46L80.56 99.97L80.99 100.52L81.45 101.09L81.91 101.68L82.38 102.27L82.84 102.84L83.28 103.38L83.70 103.88L84.07 104.32L84.40 104.70L84.68 105.01L84.92 105.27L85.14 105.48L85.33 105.66L85.50 105.81L85.66 105.94L85.82 106.06L85.97 106.17L86.13 106.28L86.30 106.40L86.49 106.54L86.70 106.70L86.93 106.88L87.18 107.06L87.44 107.24L87.70 107.42L87.98 107.60L88.25 107.79L88.52 107.97L88.80 108.16L89.06 108.35L89.32 108.53L89.57 108.72L89.80 108.90L90.01 109.08L90.19 109.24L90.34 109.41L90.49 109.56L90.62 109.72L90.76 109.88L90.91 110.05L91.08 110.23L91.28 110.42L91.51 110.62L91.78 110.85L92.10 111.10L92.49 111.38L92.93 111.69L93.44 112.03L93.97 112.39L94.54 112.75L95.12 113.13L95.70 113.51L96.27 113.88L96.82 114.24L97.33 114.59L97.80 114.91L98.20 115.20L98.55 115.46L98.86 115.71L99.13 115.94L99.37 116.16L99.59 116.37L99.79 116.56L99.99 116.75L100.17 116.94L100.36 117.13L100.56 117.31L100.77 117.50L101.00 117.70L101.24 117.90L101.49 118.10L101.75 118.29L102.00 118.49L102.26 118.68L102.52 118.87L102.78 119.06L103.03 119.25L103.28 119.44L103.53 119.62L103.77 119.81L104.00 120.00L104.22 120.18L104.41 120.36L104.59 120.53L104.75 120.69L104.92 120.86L105.08 121.03L105.26 121.20L105.45 121.37L105.66 121.56L105.90 121.76L106.18 121.97L106.50 122.20L106.87 122.45L107.29 122.74L107.75 123.05L108.24 123.37L108.75 123.70L109.28 124.04L109.80 124.37L110.33 124.69L110.84 124.98L111.33 125.26L111.78 125.50L112.20 125.70L112.58 125.86L112.93 125.99L113.27 126.09L113.58 126.16L113.88 126.21L114.17 126.26L114.46 126.29L114.74 126.32L115.02 126.35L115.31 126.39L115.60 126.43L115.90 126.50L116.21 126.58L116.52 126.66L116.83 126.74L117.14 126.83L117.45 126.92L117.76 127.01L118.07 127.09L118.37 127.18L118.68 127.27L118.99 127.35L119.30 127.43L119.60 127.50L119.89 127.56L120.17 127.62L120.43 127.66L120.68 127.70L120.93 127.73L121.19 127.77L121.46 127.81L121.75 127.86L122.06 127.92L122.40 127.99L122.78 128.09L123.20 128.20L123.68 128.34L124.21 128.52L124.80 128.71L125.42 128.93L126.06 129.15L126.72 129.38L127.37 129.61L128.01 129.83L128.63 130.04L129.21 130.22L129.74 130.38L130.20 130.50L130.60 130.59L130.96 130.66L131.29 130.70L131.57 130.73L131.84 130.74L132.08 130.74L132.31 130.73L132.54 130.72L132.76 130.71L132.99 130.70L133.24 130.69L133.50 130.70L133.77 130.71L134.04 130.72L134.31 130.73L134.57 130.74L134.83 130.74L135.10 130.75L135.37 130.76L135.64 130.76L135.92 130.77L136.20 130.78L136.50 130.79L136.80 130.80L137.10 130.81L137.40 130.83L137.70 130.84L138.00 130.85L138.30 130.87L138.61 130.88L138.94 130.90L139.28 130.91L139.65 130.93L140.03 130.95L140.45 130.98L140.90 131.00L141.37 131.03L141.85 131.06L142.35 131.10L142.86 131.14L143.40 131.18L143.96 131.22L144.54 131.26L145.16 131.30L145.81 131.33L146.50 131.36L147.23 131.38L148.00 131.40L148.82 131.41L149.68 131.41L150.59 131.41L151.53 131.41L152.50 131.40L153.51 131.39L154.54 131.37L155.60 131.36L156.67 131.34L157.77 131.33L158.88 131.31L160.00 131.30L161.14 131.29L162.33 131.27L163.54 131.26L164.78 131.24L166.04 131.23L167.31 131.21L168.60 131.20L169.89 131.18L171.18 131.16L172.47 131.14L173.74 131.12L175.00 131.10L176.25 131.08L177.50 131.06L178.75 131.04L180.00 131.01L181.25 130.99L182.50 130.97L183.75 130.94L185.00 130.92L186.25 130.89L187.50 130.86L188.75 130.83L190.00 130.80L191.25 130.77L192.50 130.73L193.75 130.69L195.00 130.64L196.25 130.60L197.50 130.56L198.75 130.51L200.00 130.47L201.25 130.42L202.50 130.38L203.75 130.34L205.00 130.30L206.23 130.26L207.44 130.23L208.63 130.19L209.81 130.15L211.00 130.12L212.19 130.08L213.40 130.05L214.63 130.01L215.90 129.98L217.21 129.95L218.57 129.93L220.00 129.90L221.46 129.88L222.93 129.85L224.41 129.83L225.93 129.81L227.47 129.80L229.06 129.78L230.70 129.77L232.41 129.75L234.18 129.74L236.03 129.73L237.97 129.71L240.00 129.70L241.83 129.69L243.27 129.68L244.46 129.67L245.57 129.66L246.75 129.65L248.15 129.64L249.93 129.63L252.25 129.62L255.26 129.62L259.12 129.61L263.98 129.60L270.00 129.60L277.73 129.60L287.34 129.59L298.43 129.59L310.62 129.59L323.50 129.59L336.68 129.59L349.74 129.59L362.31 129.60L373.98 129.60L384.35 129.60L393.02 129.60L399.60 129.60" stroke="#828282" stroke-width="1.6" fill="none" stroke-dasharray="7.8 2.2 1.5 2.7 1.5 2.3" stroke-dashoffset="-1.6" clip-path="url(#cp)"/>
<rect x="47.5" y="10.0" width="352.0" height="239.5" fill="none" stroke="#000" stroke-width="1"/>
<path d="M366.2 16.5H389.3" stroke="#ff0000" stroke-width="1.3" fill="none" stroke-dasharray="" stroke-dashoffset="0"/><path d="M366.2 25.2H389.3" stroke="#0000ff" stroke-width="1.5" fill="none" stroke-dasharray="2.8 3.6" stroke-dashoffset="0"/><path d="M366.2 33.7H389.3" stroke="#d51e8c" stroke-width="1.5" fill="none" stroke-dasharray="1.45 1.75" stroke-dashoffset="0"/><path d="M366.2 42.5H389.3" stroke="#64c800" stroke-width="1.5" fill="none" stroke-dasharray="7.7 2.7 1.5 2.2" stroke-dashoffset="0"/><path d="M366.2 51.2H389.3" stroke="#828282" stroke-width="1.5" fill="none" stroke-dasharray="7.8 2.2 1.5 2.7 1.5 2.3" stroke-dashoffset="14.2"/>
<g filter="url(#gs)"><g><text transform="translate(41.90 13.30) scale(0.9451 1)" text-anchor="end">1.05</text><text transform="translate(41.90 37.25) scale(0.9451 1)" text-anchor="end">1.04</text><text transform="translate(41.90 61.20) scale(0.9451 1)" text-anchor="end">1.03</text><text transform="translate(41.90 85.15) scale(0.9451 1)" text-anchor="end">1.02</text><text transform="translate(41.90 109.10) scale(0.9451 1)" text-anchor="end">1.01</text><text transform="translate(41.90 133.05) scale(0.9451 1)" text-anchor="end">1</text><text transform="translate(41.90 157.00) scale(0.9451 1)" text-anchor="end">0.99</text><text transform="translate(41.90 180.95) scale(0.9451 1)" text-anchor="end">0.98</text><text transform="translate(41.90 204.90) scale(0.9451 1)" text-anchor="end">0.97</text><text transform="translate(41.90 228.85) scale(0.9451 1)" text-anchor="end">0.96</text><text transform="translate(41.90 252.80) scale(0.9451 1)" text-anchor="end">0.95</text></g>
<g><text transform="translate(82.70 262.20) scale(0.9451 1)" text-anchor="middle">10<tspan dy="-3.9" font-size="7.4">-2</tspan></text><text transform="translate(241.10 262.20) scale(0.9451 1)" text-anchor="middle">10<tspan dy="-3.9" font-size="7.4">-1</tspan></text><text transform="translate(399.50 262.20) scale(0.9451 1)" text-anchor="middle">10<tspan dy="-3.9" font-size="7.4">0</tspan></text></g>
<g><text transform="translate(361.00 19.80) scale(0.9451 1)" text-anchor="end">LO+LL / LO</text><text transform="translate(361.00 28.50) scale(0.9451 1)" text-anchor="end">NLO+NNLL / NLO</text><text transform="translate(361.00 37.00) scale(0.9451 1)" text-anchor="end">NNLO+NNLL / NNLO</text><text transform="translate(361.00 45.80) scale(0.9451 1)" text-anchor="end">NNLO+NNLL / NNLO, P only</text><text transform="translate(361.00 54.50) scale(0.9451 1)" text-anchor="end">NNLO+NNLL / NNLO, C only</text></g>
<text transform="translate(223.50 274.00) scale(0.9451 1)" text-anchor="middle">z</text>
<text transform="translate(10.4,130) rotate(-90)" text-anchor="middle" font-size="8.6">K factor</text></g>
</svg>
</body></html>
